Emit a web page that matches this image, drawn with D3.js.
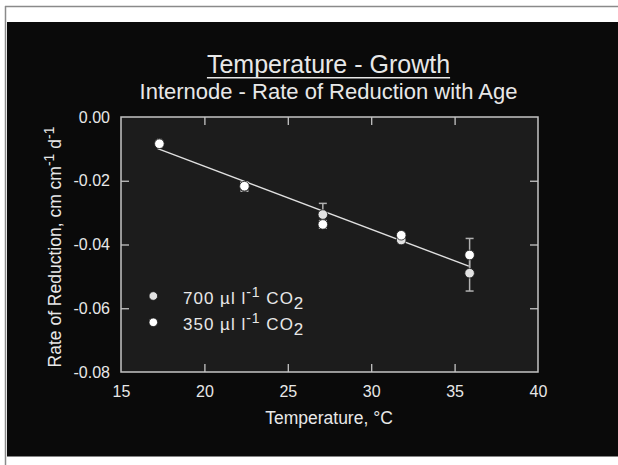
<!DOCTYPE html>
<html>
<head>
<meta charset="utf-8">
<script src="https://cdn.jsdelivr.net/npm/d3@7"></script>
<style>
  html, body { margin: 0; padding: 0; background: #ffffff; }
  svg { display: block; }
  text { font-family: "Liberation Sans", Arial, Helvetica, sans-serif; }
</style>
</head>
<body>
<svg id="chart" width="618" height="465"></svg>
<script>
// ---- data ----
const temperatures = [17.3, 22.4, 27.1, 31.8, 35.9];
const rate700 = [-0.0082, -0.0219, -0.0306, -0.0386, -0.0490];
const err700  = [0.0005, 0.0014, 0.0035, 0.0005, 0.0056];
const rate350 = [-0.0084, -0.0217, -0.0337, -0.0371, -0.0433];
const err350  = [0.0005, 0.0012, 0.0012, 0.0005, 0.0052];
const fitTemps = [17.2, 35.85];
const fitRates = [-0.0099, -0.0468];
const xTicks = [15, 20, 25, 30, 35, 40];
const yTicks = [-0.08, -0.06, -0.04, -0.02, 0.00];
const seriesNames = ["700", "350"];

// ---- layout ----
const W = 618, H = 465;
const plot = { left: 121, right: 538, top: 117, bottom: 372 };
const svg = d3.select("#chart");
const textColor = "#e8e8e8";
const axisColor = "#c4c4c4";

// page frame
svg.append("rect").attr("x", 0).attr("y", 0).attr("width", W).attr("height", H).attr("fill", "#ffffff");
svg.append("rect").attr("x", 7).attr("y", 22).attr("width", W - 7).attr("height", 456.5 - 22).attr("fill", "#0a0a0a");
svg.append("line").attr("x1", 5).attr("x2", W).attr("y1", 6.5).attr("y2", 6.5).attr("stroke", "#8a8a8a").attr("stroke-width", 1.5);
svg.append("line").attr("x1", 5.5).attr("x2", 5.5).attr("y1", 6).attr("y2", H).attr("stroke", "#8a8a8a").attr("stroke-width", 1.5);

// scales
const x = d3.scaleLinear().domain([15, 40]).range([plot.left, plot.right]);
const y = d3.scaleLinear().domain([-0.08, 0]).range([plot.bottom, plot.top]);

// plot background
svg.append("rect")
  .attr("x", plot.left).attr("y", plot.top)
  .attr("width", plot.right - plot.left).attr("height", plot.bottom - plot.top)
  .attr("fill", "#1c1c1c");

// axes
function styleAxis(g) {
  g.select(".domain").remove();
  g.selectAll(".tick line").attr("stroke", axisColor).attr("stroke-width", 1.3);
  g.selectAll(".tick text").attr("fill", textColor).attr("font-size", 16)
    .attr("font-family", "'Liberation Sans', Arial, sans-serif");
}
const inner = xTicks.slice(1, -1);
const innerY = yTicks.slice(1, -1);
svg.append("g").attr("transform", `translate(0,${plot.bottom})`)
  .call(d3.axisBottom(x).tickValues(xTicks).tickSize(0).tickPadding(14).tickFormat(d3.format("d")))
  .call(styleAxis);
svg.append("g").attr("transform", `translate(0,${plot.bottom})`)
  .call(d3.axisBottom(x).tickValues(inner).tickSize(-8).tickFormat(""))
  .call(styleAxis);
svg.append("g").attr("transform", `translate(0,${plot.top})`)
  .call(d3.axisTop(x).tickValues(inner).tickSize(-8).tickFormat(""))
  .call(styleAxis);
svg.append("g").attr("transform", `translate(${plot.left},0)`)
  .call(d3.axisLeft(y).tickValues(yTicks).tickSize(0).tickPadding(11).tickFormat(d => Math.abs(d) < 1e-9 ? "0.00" : d.toFixed(2)))
  .call(styleAxis);
svg.append("g").attr("transform", `translate(${plot.left},0)`)
  .call(d3.axisLeft(y).tickValues(innerY).tickSize(-8).tickFormat(""))
  .call(styleAxis);
svg.append("g").attr("transform", `translate(${plot.right},0)`)
  .call(d3.axisRight(y).tickValues(innerY).tickSize(-8).tickFormat(""))
  .call(styleAxis);

// box
svg.append("rect")
  .attr("x", plot.left).attr("y", plot.top)
  .attr("width", plot.right - plot.left).attr("height", plot.bottom - plot.top)
  .attr("fill", "none").attr("stroke", axisColor).attr("stroke-width", 1.5);

// build series
const series = [
  { name: "700", vals: rate700, errs: err700, fill: "#e2e2e2" },
  { name: "350", vals: rate350, errs: err350, fill: "#ffffff" }
];
const pts = [];
series.forEach(s => temperatures.forEach((t, i) => pts.push({ t, v: s.vals[i], e: s.errs[i], fill: s.fill })));

// error bars
const eb = svg.append("g").attr("stroke", "#b0b0b0").attr("stroke-width", 1.5);
pts.forEach(p => {
  const x0 = x(p.t), y1 = y(p.v + p.e), y2 = y(p.v - p.e);
  eb.append("line").attr("x1", x0).attr("x2", x0).attr("y1", y1).attr("y2", y2);
  eb.append("line").attr("x1", x0 - 4).attr("x2", x0 + 4).attr("y1", y1).attr("y2", y1);
  eb.append("line").attr("x1", x0 - 4).attr("x2", x0 + 4).attr("y1", y2).attr("y2", y2);
});

// regression line
svg.append("path")
  .datum(fitTemps.map((t, i) => [t, fitRates[i]]))
  .attr("d", d3.line().x(d => x(d[0])).y(d => y(d[1])))
  .attr("fill", "none").attr("stroke", "#e0e0e0").attr("stroke-width", 1.4);

// points
svg.append("g").selectAll("circle").data(pts).join("circle")
  .attr("cx", d => x(d.t)).attr("cy", d => y(d.v)).attr("r", 4.8)
  .attr("fill", d => d.fill).attr("stroke", "#1a1a1a").attr("stroke-width", 0.8);

// legend
const legend = svg.append("g");
series.forEach((s, i) => {
  const ly = 296 + i * 26.3;
  legend.append("circle").attr("cx", 153.3).attr("cy", ly).attr("r", 4.3)
    .attr("fill", s.fill).attr("stroke", "#1a1a1a").attr("stroke-width", 0.8);
  const t = legend.append("text").attr("x", 183).attr("y", ly + 8)
    .attr("fill", textColor).attr("font-size", 17).attr("letter-spacing", 1);
  t.append("tspan").text(seriesNames[i] + " \u00b5l l");
  t.append("tspan").attr("dy", -7).attr("font-size", 14).text("-1");
  t.append("tspan").attr("dy", 7).text(" CO");
  t.append("tspan").attr("dy", 5).attr("font-size", 17).text("2");
});

// titles
const title = svg.append("text").attr("x", 328.5).attr("y", 73.3).attr("text-anchor", "middle")
  .attr("fill", textColor).attr("font-size", 25).text("Temperature - Growth");
const bb = title.node().getBBox();
svg.append("line").attr("x1", bb.x).attr("x2", bb.x + bb.width).attr("y1", 77.8).attr("y2", 77.8)
  .attr("stroke", textColor).attr("stroke-width", 1.6);
svg.append("text").attr("x", 328.5).attr("y", 99.3).attr("text-anchor", "middle")
  .attr("fill", textColor).attr("font-size", 22).text("Internode - Rate of Reduction with Age");

// axis titles
svg.append("text").attr("x", 329).attr("y", 424.3).attr("text-anchor", "middle")
  .attr("fill", textColor).attr("font-size", 17.5).text("Temperature, \u00b0C");

const yl = svg.append("text").attr("transform", "rotate(-90)")
  .attr("x", -247).attr("y", 61).attr("text-anchor", "middle")
  .attr("fill", textColor).attr("font-size", 17.5);
yl.append("tspan").text("Rate of Reduction, cm cm");
yl.append("tspan").attr("dy", -7).attr("font-size", 14).text("-1");
yl.append("tspan").attr("dy", 7).text(" d");
yl.append("tspan").attr("dy", -7).attr("font-size", 14).text("-1");
</script>
</body>
</html>
